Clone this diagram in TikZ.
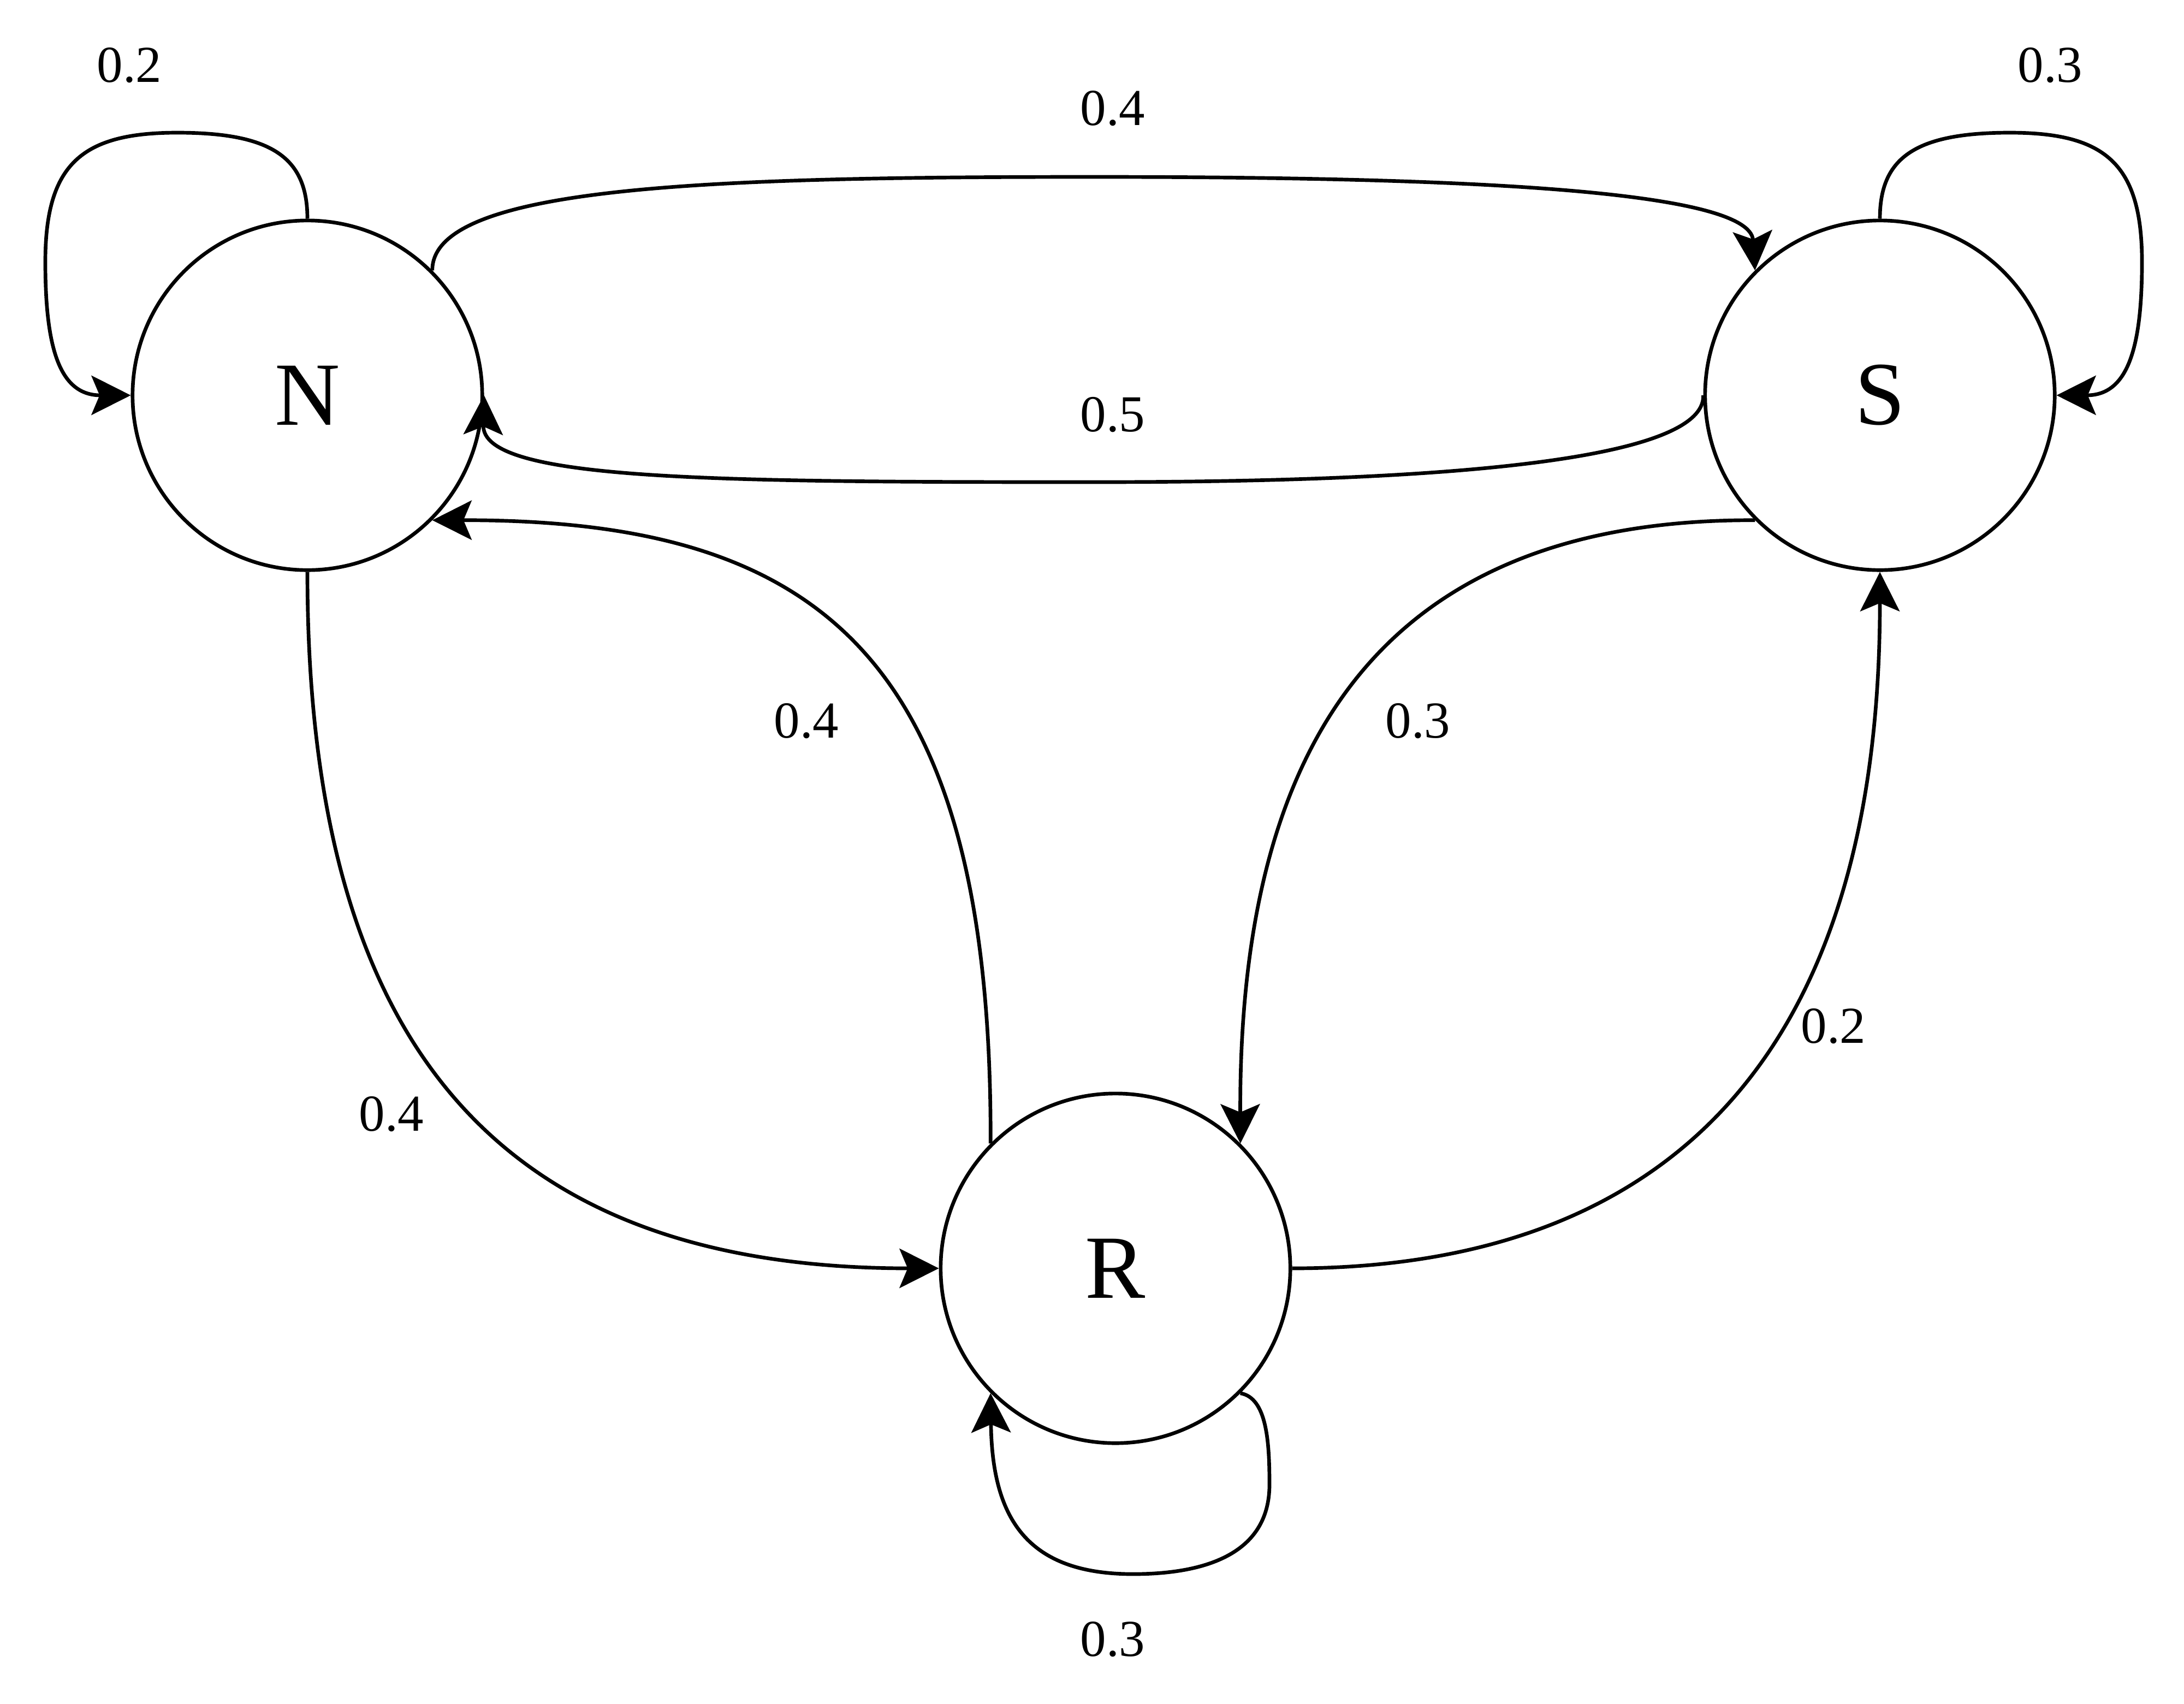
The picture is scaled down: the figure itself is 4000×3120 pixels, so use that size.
\documentclass[tikz,border=0pt]{standalone}
\usepackage{fontspec}
\setmainfont{Liberation Serif}
\usetikzlibrary{arrows.meta,positioning}

\begin{document}
\begin{tikzpicture}[x=0.01cm, y=-0.01cm, line width=1.9pt,
    -{Stealth[length=0.72cm, width=0.72cm, inset=0.15cm]},
    state/.style={circle, draw, minimum size=6.4cm, inner sep=0pt, font=\fontsize{47}{50}\selectfont},
    prob/.style={font=\fontsize{27}{30}\selectfont}]
    \useasboundingbox (0,0) rectangle (4000,3120);

    \node[state] (N) at (563,724) {N};
    \node[state] (S) at (3443,724) {S};
    \node[state] (R) at (2043,2323) {R};

    % self loops
    \draw (N.north) .. controls (563,290) and (500,243) .. (325,243)
        .. controls (150,243) and (83,300) .. (83,480)
        .. controls (83,640) and (110,724) .. (N.west);
    \draw (S.north) .. controls (3443,290) and (3506,243) .. (3681,243)
        .. controls (3856,243) and (3923,300) .. (3923,480)
        .. controls (3923,640) and (3896,724) .. (S.east);
    \draw (R.south east) .. controls (2320,2560) and (2325,2640) .. (2325,2719)
        .. controls (2325,2850) and (2200,2883) .. (2075,2883)
        .. controls (1880,2883) and (1817,2780) .. (R.south west);

    % between states
    \draw (N.north east) .. controls (791,340) and (1300,324) .. (2003,324)
        .. controls (2700,324) and (3205,350) .. (S.north west);
    \draw (S.west) .. controls (3124,860) and (2500,883) .. (2003,883)
        .. controls (1300,883) and (883,880) .. (N.east);
    \draw (R.north west) .. controls (1817,1200) and (1500,952) .. (N.south east);
    \draw (N.south) .. controls (563,1900) and (900,2323) .. (R.west);
    \draw (S.south west) .. controls (2500,950) and (2269,1400) .. (R.north east);
    \draw (R.east) .. controls (3030,2323) and (3443,1960) .. (S.south);

    % probabilities
    \node[prob] (pNN) at (237,120) {0.2};
    \node[prob] (pSS) at (3755,120) {0.3};
    \node[prob] (pNS) at (2038,199) {0.4};
    \node[prob] (pSN) at (2038,760) {0.5};
    \node[prob] (pRN) at (1477,1321) {0.4};
    \node[prob] (pSR) at (2597,1321) {0.3};
    \node[prob] (pNR) at (717,2041) {0.4};
    \node[prob] (pRS) at (3358,1880) {0.2};
    \node[prob] (pRR) at (2038,3003) {0.3};
\end{tikzpicture}
\end{document}
